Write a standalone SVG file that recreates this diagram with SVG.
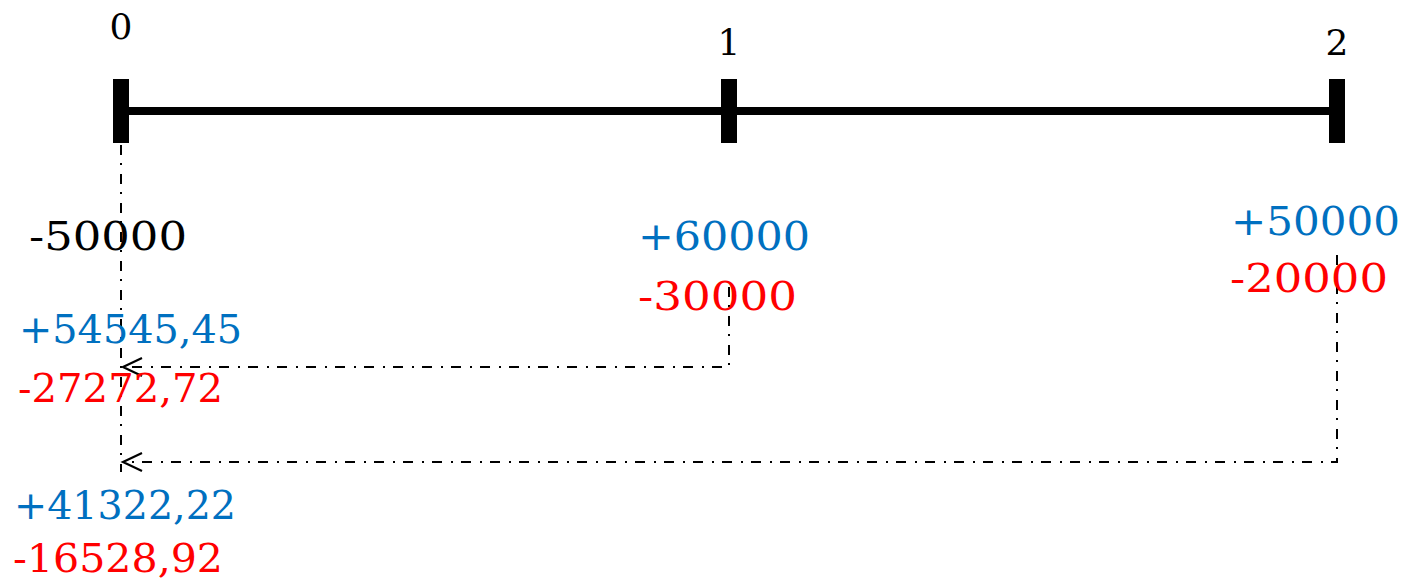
<svg xmlns="http://www.w3.org/2000/svg" width="1403" height="583" viewBox="0 0 1403 583">
  <style>
    .lbl { font-family: "DejaVu Serif", "Liberation Serif", serif; font-size: 40px; }
    .tick-lbl { font-family: "DejaVu Serif", "Liberation Serif", serif; font-size: 36px; fill: #000; text-anchor: middle; }
    .blk { fill: #000; }
    .blue { fill: #0070C0; }
    .red { fill: #FF0000; }
    .dd { fill: none; stroke: #000; stroke-width: 2; stroke-dasharray: 10 8 2 9; }
  </style>
  <defs>
    <marker id="open" markerUnits="userSpaceOnUse" viewBox="-22 -12 25 24" markerWidth="25" markerHeight="24" refX="0" refY="0" orient="auto">
      <path d="M-19,-9 L0,0 L-19,9" fill="none" stroke="#000" stroke-width="2.2" stroke-dasharray="none"/>
    </marker>
  </defs>
  <rect width="1403" height="583" fill="#fff"/>

  <g id="timeline">
    <rect x="129" y="107" width="1200" height="8" fill="#000"/>
    <rect x="113" y="79" width="16" height="64" fill="#000"/>
    <rect x="721" y="79" width="16" height="64" fill="#000"/>
    <rect x="1329" y="79" width="16" height="64" fill="#000"/>
    <text class="tick-lbl" x="121" y="39">0</text>
    <text class="tick-lbl" x="729" y="55">1</text>
    <text class="tick-lbl" x="1337" y="55">2</text>
  </g>

  <g id="connectors">
    <path class="dd" d="M121,145 L121,472"/>
    <path class="dd" d="M729,287 L729,367 L123,367" marker-end="url(#open)"/>
    <path class="dd" d="M1337,255 L1337,462 L123,462" marker-end="url(#open)"/>
  </g>

  <g id="period0">
    <text class="lbl blk" x="29" y="250" textLength="158" lengthAdjust="spacingAndGlyphs">-50000</text>
  </g>
  <g id="period1">
    <text class="lbl blue" x="638" y="250" textLength="172" lengthAdjust="spacingAndGlyphs">+60000</text>
    <text class="lbl red" x="638" y="310" textLength="159" lengthAdjust="spacingAndGlyphs">-30000</text>
  </g>
  <g id="period2">
    <text class="lbl blue" x="1231" y="235" textLength="169" lengthAdjust="spacingAndGlyphs">+50000</text>
    <text class="lbl red" x="1230" y="292" textLength="158" lengthAdjust="spacingAndGlyphs">-20000</text>
  </g>
  <g id="pv1">
    <text class="lbl blue" x="19" y="343" textLength="223" lengthAdjust="spacingAndGlyphs">+54545,45</text>
    <text class="lbl red" x="18" y="402" textLength="205" lengthAdjust="spacingAndGlyphs">-27272,72</text>
  </g>
  <g id="pv2">
    <text class="lbl blue" x="14" y="519" textLength="222" lengthAdjust="spacingAndGlyphs">+41322,22</text>
    <text class="lbl red" x="13" y="572" textLength="210" lengthAdjust="spacingAndGlyphs">-16528,92</text>
  </g>
</svg>
